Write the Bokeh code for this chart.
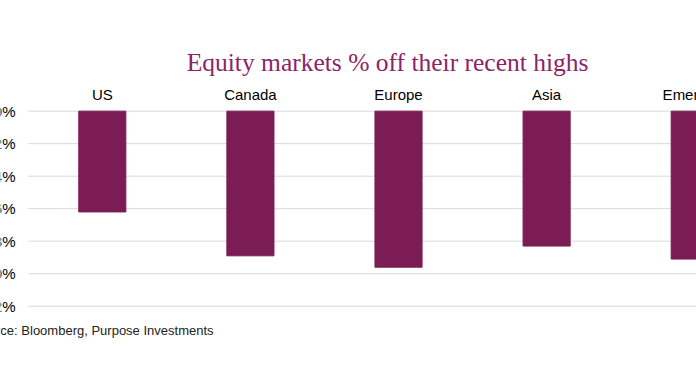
from bokeh.plotting import figure
from bokeh.models import Range1d, ColumnDataSource
from bokeh.core.properties import value
from bokeh.embed import file_html
from bokeh.resources import INLINE

categories = ["US", "Canada", "Europe", "Asia", "Emerging"]
values = [-6.2, -8.9, -9.6, -8.3, -9.1]
y_ticks = [0, -2, -4, -6, -8, -10, -12]
y_tick_labels = ["0%", "-2%", "-4%", "-6%", "-8%", "-10%", "-12%"]
title_text = "Equity markets % off their recent highs"
source_text = "Source: Bloomberg, Purpose Investments"

BAR = "#7B1C55"
TITLE = "#8B2466"

xs = list(range(len(categories)))
src = ColumnDataSource(dict(x=xs, top=[0] * len(values), bottom=values,
                            label=categories, ly=[1.03] * len(categories)))

# one frame covering the whole canvas, so texts outside the bars area are drawn
p = figure(width=696, height=385, output_backend="svg", toolbar_location=None,
           x_range=Range1d(-0.6874, 4.012), y_range=Range1d(-16.88, 6.81),
           min_border=0)
p.outline_line_color = None
p.axis.visible = False
p.grid.visible = False

# horizontal gridlines at the value ticks, spanning the category area
grid_src = ColumnDataSource(dict(y=y_ticks, x0=[-0.5] * len(y_ticks),
                                 x1=[len(categories) - 0.5] * len(y_ticks),
                                 lab=y_tick_labels,
                                 lx=[-0.586] * len(y_ticks)))
p.segment(x0="x0", y0="y", x1="x1", y1="y", source=grid_src,
          line_color="#D9D9D9", line_width=1)

p.vbar(x="x", top="top", bottom="bottom", width=0.318, source=src,
       fill_color=BAR, line_color=BAR)

p.text(x="x", y="ly", text="label", source=src, text_align="center",
       text_baseline="middle", text_font=value("Liberation Sans"),
       text_font_size="15px", text_color="#000000")

p.text(x="lx", y="y", text="lab", source=grid_src, text_align="right",
       text_baseline="middle", text_font=value("Liberation Sans"),
       text_font_size="15px", text_color="#000000")

p.text(x=[1.926], y=[3.0], text=[title_text], text_align="center",
       text_baseline="middle", text_font=value("Liberation Serif"),
       text_font_size="25.5px", text_color=TITLE)

p.text(x=[0.751], y=[-13.5], text=[source_text], text_align="right",
       text_baseline="middle", text_font=value("Liberation Sans"),
       text_font_size="13px", text_color="#222222")

open("out.html", "w").write(file_html(p, INLINE))
